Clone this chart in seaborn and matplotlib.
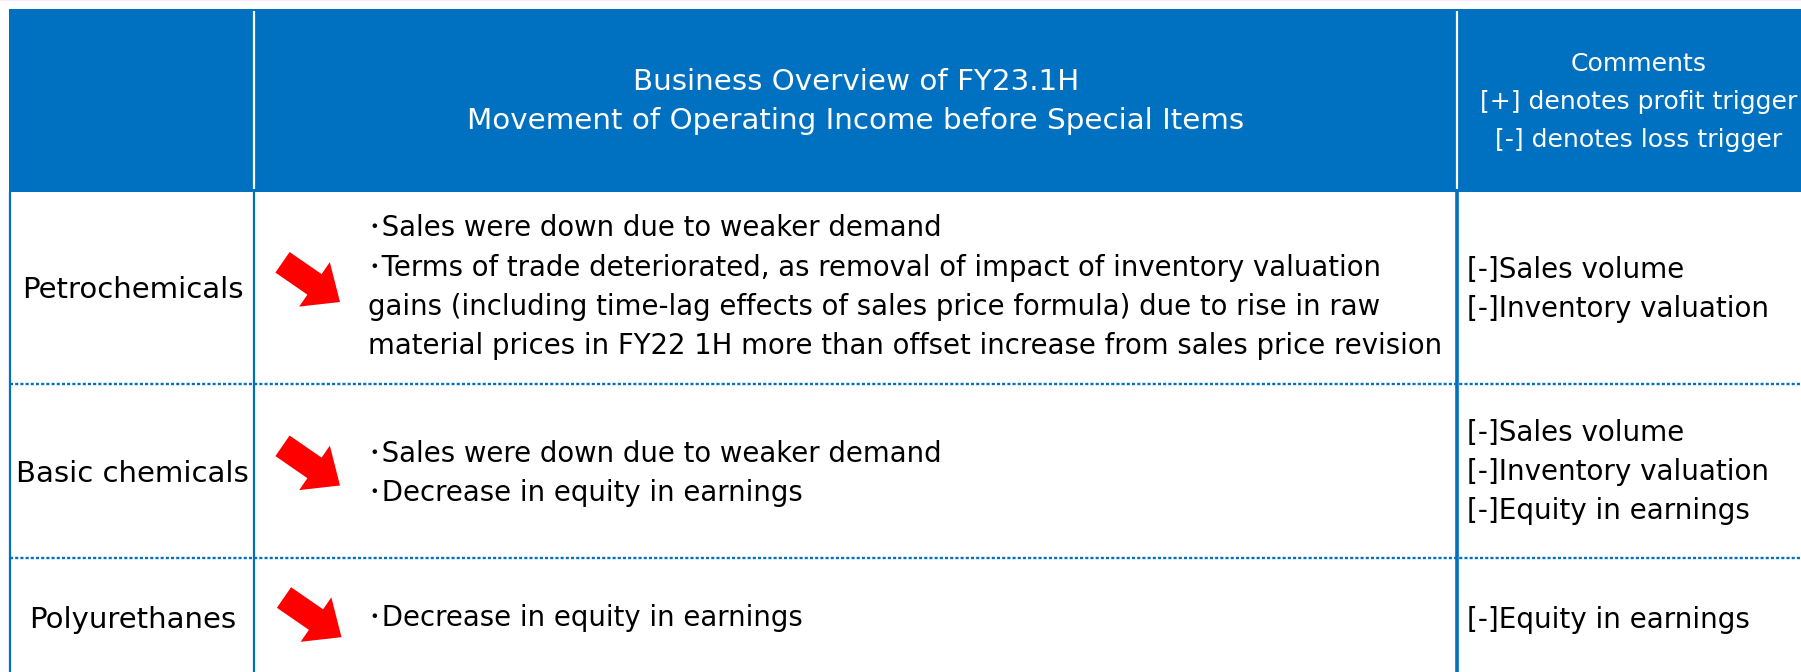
import matplotlib
matplotlib.use("Agg")
import matplotlib.pyplot as plt
from matplotlib.patches import Rectangle, FancyArrow
import seaborn as sns

# ---------------- data (text content of the table) ----------------
categories = ["Petrochemicals", "Basic chemicals", "Polyurethanes"]
trend = ["down", "down", "down"]
overview_header = ["Business Overview of FY23.1H",
                   "Movement of Operating Income before Special Items"]
comments_header = ["Comments",
                   "[+] denotes profit trigger",
                   "[-] denotes loss trigger"]
overview_petro = [
    "･Sales were down due to weaker demand",
    "･Terms of trade deteriorated, as removal of impact of inventory valuation",
    "gains (including time-lag effects of sales price formula) due to rise in raw",
    "material prices in FY22 1H more than offset increase from sales price revision",
]
overview_basic = ["･Sales were down due to weaker demand",
                  "･Decrease in equity in earnings"]
overview_poly = ["･Decrease in equity in earnings"]
comments_petro = ["[-]Sales volume", "[-]Inventory valuation"]
comments_basic = ["[-]Sales volume", "[-]Inventory valuation",
                  "[-]Equity in earnings"]
comments_poly = ["[-]Equity in earnings"]

overview_rows = [overview_petro, overview_basic, overview_poly]
comment_rows = [comments_petro, comments_basic, comments_poly]

# ---------------- layout / style ----------------
W, H = 1801, 672
BLUE = "#0070C0"
RED = "#FF0000"
HEAD_TOP, HEAD_BOT = 9, 191.5
LEFT = 9.5
COL1, COL2 = 254, 1456.5
ROW_SEPS = [384, 558]
LABEL_X = 132.5
LABEL_BASE = [298, 482.5, 628]
OV_X = 368
OV_BASE = [236.5, 462, 626]
CM_X = 1467
CM_BASE = [278, 441, 628]
LINE_STEP = 39.2
HDR_OV_X = 856
HDR_OV_BASE = [90.5, 129]
HDR_CM_X = 1639
HDR_CM_BASE = [70.7, 108.7, 146.7]
ARROW_TAIL = [(282.5, 262.3), (282.5, 445.8), (284.0, 597.5)]
ARROW_VEC = (57.5, 39.7)

sns.set_theme(style="white")
FAM = ["DejaVu Sans", "Noto Sans CJK JP"]
plt.rcParams["font.family"] = FAM

fig = plt.figure(figsize=(W / 100, H / 100), dpi=100)
ax = fig.add_axes([0, 0, 1, 1])
ax.set_xlim(0, W)
ax.set_ylim(H, 0)
ax.axis("off")
renderer = fig.canvas.get_renderer()


def fit_size(sample, target):
    t = ax.text(0, 0, sample, fontsize=20, family=FAM)
    w = t.get_window_extent(renderer).width
    t.remove()
    return 20 * target / w


fs_body = fit_size(overview_petro[3], 1073.5)
fs_cm = fit_size(comments_basic[1], 301.7)
fs_lab = fit_size(categories[0], 221)
fs_hdr = fit_size(overview_header[1], 776.5)
fs_hcm = fit_size(comments_header[1], 318)

# faint top line
ax.add_patch(Rectangle((0, 0), W, 1.2, color="#F6EAF6", lw=0))
# header band
ax.add_patch(Rectangle((LEFT - 0.5, HEAD_TOP), W - LEFT, HEAD_BOT - HEAD_TOP,
                       facecolor=BLUE, edgecolor="none"))
for x in (COL1, COL2):
    ax.plot([x, x], [HEAD_TOP + 2, HEAD_BOT - 2.5], color="white", lw=1.6,
            solid_capstyle="butt")

# body vertical lines
ax.plot([LEFT, LEFT], [HEAD_BOT, H], color=BLUE, lw=1.6, solid_capstyle="butt")
ax.plot([COL1, COL1], [HEAD_BOT, H], color=BLUE, lw=1.6, solid_capstyle="butt")
ax.plot([COL2, COL2], [HEAD_BOT, H], color=BLUE, lw=2.6, solid_capstyle="butt")

# dotted row separators
for y in ROW_SEPS:
    ax.plot([LEFT, W], [y, y], color=BLUE, lw=1.7, linestyle=(0, (1.3, 0.9)),
            dash_capstyle="butt")

# header text
for s, yb in zip(overview_header, HDR_OV_BASE):
    ax.text(HDR_OV_X, yb, s, color="white", fontsize=fs_hdr, ha="center",
            va="baseline", family=FAM)
for s, yb in zip(comments_header, HDR_CM_BASE):
    ax.text(HDR_CM_X, yb, s, color="white", fontsize=fs_hcm, ha="center",
            va="baseline", family=FAM)

# rows
for i, cat in enumerate(categories):
    ax.text(LABEL_X, LABEL_BASE[i], cat, color="black", fontsize=fs_lab,
            ha="center", va="baseline", family=FAM)
    for j, line in enumerate(overview_rows[i]):
        ax.text(OV_X, OV_BASE[i] + j * LINE_STEP, line, color="black",
                fontsize=fs_body, ha="left", va="baseline", family=FAM)
    for j, line in enumerate(comment_rows[i]):
        ax.text(CM_X, CM_BASE[i] + j * LINE_STEP, line, color="black",
                fontsize=fs_cm, ha="left", va="baseline", family=FAM)
    if trend[i] == "down":
        tx, ty = ARROW_TAIL[i]
        ax.add_patch(FancyArrow(tx, ty, ARROW_VEC[0], ARROW_VEC[1], width=25,
                                head_width=54, head_length=31,
                                length_includes_head=True, color=RED, lw=0))

fig.savefig("out.png", dpi=100, facecolor="white")
